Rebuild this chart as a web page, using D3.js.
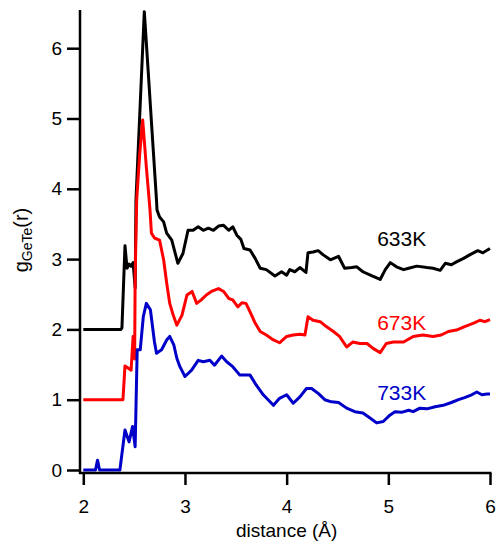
<!DOCTYPE html>
<html>
<head>
<meta charset="utf-8">
<script src="https://cdn.jsdelivr.net/npm/d3@7"></script>
<style>
  body { margin: 0; background: #fff; }
  svg { font-family: "Liberation Sans", Arial, Helvetica, sans-serif; }
</style>
</head>
<body>
<div id="chart"></div>
<script>
// values as plotted (633K shifted by +2, 673K by +1, 733K by 0)
var r633 = [2.00, 2.37, 2.38, 2.41, 2.43, 2.45, 2.47, 2.49, 2.51, 2.518, 2.56, 2.60, 2.64, 2.68, 2.72, 2.725,
  2.75, 2.79, 2.82, 2.87, 2.93, 2.98, 3.03, 3.08, 3.13, 3.18, 3.23, 3.28, 3.33, 3.38, 3.43, 3.47, 3.51,
  3.55, 3.58, 3.64, 3.69, 3.74, 3.80, 3.885, 3.95, 4.00, 4.03, 4.08, 4.13, 4.19, 4.21, 4.26, 4.31, 4.36,
  4.43, 4.51, 4.57, 4.64, 4.69, 4.75, 4.84, 4.92, 4.97, 5.02, 5.08, 5.15, 5.20, 5.28, 5.38, 5.44, 5.51,
  5.56, 5.62, 5.67, 5.74, 5.80, 5.88, 5.93, 6.00];
var g633 = [2.00, 2.00, 2.02, 3.19, 2.87, 2.93, 2.90, 2.95, 2.59, 3.84, 5.21, 6.52, 5.63, 4.73, 3.84, 3.70,
  3.60, 3.53, 3.37, 3.27, 2.94, 3.08, 3.41, 3.41, 3.46, 3.41, 3.44, 3.41, 3.47, 3.48, 3.41, 3.46, 3.34,
  3.28, 3.15, 3.13, 3.01, 2.87, 2.85, 2.76, 2.82, 2.77, 2.85, 2.82, 2.88, 2.81, 3.09, 3.10, 3.12, 3.06,
  2.99, 3.04, 2.87, 2.88, 2.89, 2.82, 2.76, 2.71, 2.85, 2.95, 2.89, 2.85, 2.87, 2.90, 2.88, 2.87, 2.84,
  2.94, 2.92, 2.96, 3.01, 3.06, 3.12, 3.09, 3.15];

var r673 = [2.00, 2.39, 2.41, 2.44, 2.47, 2.49, 2.505, 2.51, 2.525, 2.555, 2.584, 2.62, 2.656, 2.67, 2.70,
  2.75, 2.79, 2.82, 2.85, 2.885, 2.92, 2.97, 3.02, 3.07, 3.115, 3.16, 3.21, 3.26, 3.33, 3.38, 3.43, 3.47,
  3.52, 3.56, 3.60, 3.64, 3.69, 3.74, 3.80, 3.87, 3.93, 4.00, 4.065, 4.13, 4.18, 4.21, 4.26, 4.33, 4.39,
  4.46, 4.52, 4.59, 4.65, 4.72, 4.79, 4.85, 4.92, 4.98, 5.05, 5.15, 5.245, 5.34, 5.44, 5.52, 5.59, 5.67,
  5.75, 5.84, 5.90, 5.95, 6.00];
var g673 = [1.00, 1.00, 1.48, 1.45, 1.42, 1.90, 1.58, 2.75, 3.84, 4.50, 4.98, 4.31, 3.70, 3.37, 3.30,
  3.27, 2.99, 2.66, 2.37, 2.20, 2.06, 2.20, 2.49, 2.54, 2.37, 2.42, 2.49, 2.54, 2.58, 2.54, 2.44, 2.42,
  2.32, 2.38, 2.37, 2.25, 2.09, 1.97, 1.92, 1.85, 1.81, 1.90, 1.92, 1.93, 1.92, 2.18, 2.13, 2.11, 2.04,
  1.97, 1.90, 1.75, 1.82, 1.80, 1.80, 1.73, 1.67, 1.80, 1.82, 1.82, 1.90, 1.92, 1.90, 1.92, 1.97, 1.99,
  2.04, 2.09, 2.13, 2.11, 2.14];

var r733 = [2.00, 2.12, 2.14, 2.16, 2.36, 2.41, 2.45, 2.485, 2.51, 2.53, 2.56, 2.59, 2.62, 2.66, 2.70, 2.72,
  2.77, 2.82, 2.85, 2.89, 2.92, 2.95, 3.00, 3.065, 3.13, 3.18, 3.245, 3.29, 3.36, 3.41, 3.47, 3.54, 3.64,
  3.70, 3.77, 3.87, 3.93, 4.00, 4.065, 4.13, 4.195, 4.245, 4.31, 4.375, 4.44, 4.51, 4.59, 4.67, 4.75,
  4.82, 4.885, 4.95, 5.015, 5.065, 5.13, 5.20, 5.245, 5.31, 5.38, 5.46, 5.54, 5.62, 5.69, 5.75, 5.82,
  5.87, 5.92, 5.97, 6.00];
var g733 = [0.00, 0.00, 0.14, 0.00, 0.00, 0.57, 0.40, 0.62, 0.33, 1.71, 1.71, 2.18, 2.37, 2.28, 1.82, 1.66,
  1.71, 1.85, 1.90, 1.78, 1.59, 1.47, 1.33, 1.42, 1.56, 1.54, 1.56, 1.49, 1.62, 1.54, 1.47, 1.35, 1.35,
  1.21, 1.07, 0.92, 1.02, 1.07, 0.95, 1.04, 1.16, 1.16, 1.09, 1.00, 0.97, 0.96, 0.88, 0.83, 0.81,
  0.74, 0.67, 0.69, 0.78, 0.83, 0.82, 0.85, 0.83, 0.88, 0.87, 0.90, 0.92, 0.96, 1.00, 1.03, 1.07,
  1.11, 1.07, 1.08, 1.08];

var seriesNames = ["633K", "673K", "733K"];
var seriesColors = ["#000000", "#ff0000", "#0000c8"];
var labelY = [3.19, 1.99, 1.0];
var xTicks = [2, 3, 4, 5, 6];
var yTicks = [0, 1, 2, 3, 4, 5, 6];

var width = 498, height = 544;
var x = d3.scaleLinear().domain([2, 6]).range([83.3, 490]);
var y = d3.scaleLinear().domain([0, 6]).range([470, 48.2]);

var svg = d3.select("#chart").append("svg")
  .attr("width", width)
  .attr("height", height);

var series = [
  { name: seriesNames[0], r: r633, g: g633 },
  { name: seriesNames[1], r: r673, g: g673 },
  { name: seriesNames[2], r: r733, g: g733 }
];

var line = d3.line()
  .x(function(d) { return x(d[0]); })
  .y(function(d) { return y(d[1]); });

series.forEach(function(s, i) {
  var pts = s.r.map(function(v, j) { return [v, s.g[j]]; });
  svg.append("path")
    .datum(pts)
    .attr("fill", "none")
    .attr("stroke", seriesColors[i])
    .attr("stroke-width", 3)
    .attr("stroke-linejoin", "round")
    .attr("d", line);

  svg.append("text")
    .attr("x", x(4.89))
    .attr("y", y(labelY[i]))
    .attr("fill", seriesColors[i])
    .style("font-size", "21px")
    .text(s.name);
});

// axes, drawn a few px off the data origin like the original
var yAxis = svg.append("g")
  .attr("transform", "translate(80,0)")
  .call(d3.axisLeft(y).tickValues(yTicks).tickSize(13).tickPadding(5).tickFormat(d3.format("d")));
yAxis.select(".domain").remove();
yAxis.selectAll("line").attr("stroke-width", 2.5);
yAxis.selectAll("text").style("font-size", "19px").attr("fill", "#000");

var xAxis = svg.append("g")
  .attr("transform", "translate(0,473)")
  .call(d3.axisBottom(x).tickValues(xTicks).tickSize(12).tickPadding(15).tickFormat(d3.format("d")));
xAxis.select(".domain").remove();
xAxis.selectAll("line").attr("stroke-width", 2.5);
xAxis.selectAll("text").style("font-size", "19px").attr("fill", "#000");

svg.append("line")
  .attr("x1", 80).attr("x2", 80)
  .attr("y1", 10).attr("y2", 474)
  .attr("stroke", "#000").attr("stroke-width", 2.5);
svg.append("line")
  .attr("x1", 79).attr("x2", 491.5)
  .attr("y1", 473).attr("y2", 473)
  .attr("stroke", "#000").attr("stroke-width", 2.5);

svg.append("text")
  .attr("x", x(4))
  .attr("y", 537)
  .attr("text-anchor", "middle")
  .style("font-size", "19px")
  .text("distance (Å)");

var yl = svg.append("text")
  .attr("transform", "translate(28,240) rotate(-90)")
  .attr("text-anchor", "middle")
  .style("font-size", "20px");
yl.append("tspan").text("g");
yl.append("tspan").attr("dy", 4).style("font-size", "14px").text("GeTe");
yl.append("tspan").attr("dy", -4).text("(r)");
</script>
</body>
</html>
